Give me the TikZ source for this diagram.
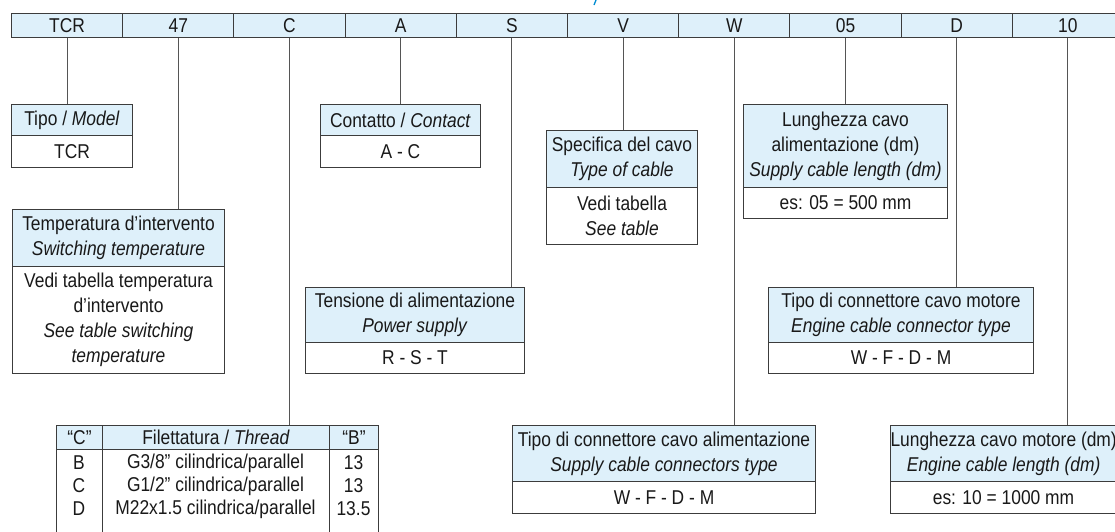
\documentclass[tikz,border=0pt]{standalone}
\usepackage{fontspec}
\setmainfont{Liberation Sans}[FakeStretch=0.87]
\definecolor{hdrblue}{RGB}{222,240,250}
\definecolor{boxline}{RGB}{60,60,60}
\definecolor{connline}{RGB}{85,85,85}
\definecolor{txt}{RGB}{25,25,25}
\definecolor{fragblue}{RGB}{0,140,210}
\begin{document}
\begin{tikzpicture}[x=1pt,y=-1pt,
  every node/.style={font=\fontsize{20}{25}\selectfont, text=txt},
  cellbox/.style={draw=boxline, fill=hdrblue, line width=1pt, inner sep=0pt, anchor=north west, minimum width=111.2pt, minimum height=24pt},
  hdrbox/.style={draw=boxline, fill=hdrblue, line width=1pt, inner sep=0pt, anchor=north west, align=center},
  bodybox/.style={draw=boxline, fill=white, line width=1pt, inner sep=0pt, anchor=north west, align=center},
  conn/.style={draw=connline, line width=1.1pt},
  tbltext/.style={inner sep=0pt, anchor=center}
]
\useasboundingbox (0,0) rectangle (1115,531);
\clip (0,0) rectangle (1115,531);

% fragment of cut-off title
\draw[fragblue, line width=1.3pt] (596,0) -- (594,5);

% top code bar
\node[cellbox] (c1) at (11,13) {TCR};
\node[cellbox] (c2) at (122.2,13) {47};
\node[cellbox] (c3) at (233.4,13) {C};
\node[cellbox] (c4) at (344.6,13) {A};
\node[cellbox] (c5) at (455.8,13) {S};
\node[cellbox] (c6) at (567,13) {V};
\node[cellbox] (c7) at (678.2,13) {W};
\node[cellbox] (c8) at (789.4,13) {05};
\node[cellbox] (c9) at (900.6,13) {D};
\node[cellbox] (c10) at (1011.8,13) {10};

% Tipo / Model
\node[hdrbox, minimum width=121pt, minimum height=31pt] (tipoH) at (11,104) {Tipo / \textit{Model}};
\node[bodybox, minimum width=121pt, minimum height=32pt] (tipoB) at (11,135) {TCR};

% Temperatura
\node[hdrbox, minimum width=212pt, minimum height=57pt] (tempH) at (12,209) {Temperatura d’intervento\\\textit{Switching temperature}};
\node[bodybox, minimum width=212pt, minimum height=107pt] (tempB) at (12,266) {Vedi tabella temperatura\\d’intervento\\\textit{See table switching}\\\textit{temperature}};

% Contatto
\node[hdrbox, minimum width=160pt, minimum height=31pt] (contH) at (320,104) {Contatto / \textit{Contact}};
\node[bodybox, minimum width=160pt, minimum height=32pt] (contB) at (320,135) {A - C};

% Specifica
\node[hdrbox, minimum width=151pt, minimum height=57pt] (specH) at (546,130) {Specifica del cavo\\\textit{Type of cable}};
\node[bodybox, minimum width=151pt, minimum height=57pt] (specB) at (546,187) {Vedi tabella\\\textit{See table}};

% Lunghezza cavo alimentazione
\node[hdrbox, minimum width=204pt, minimum height=83pt] (lungH) at (743,104) {Lunghezza cavo\\alimentazione (dm)\\\textit{Supply cable length (dm)}};
\node[bodybox, minimum width=204pt, minimum height=31pt] (lungB) at (743,187) {es: 05 = 500 mm};

% Tensione
\node[hdrbox, minimum width=219pt, minimum height=55pt] (tensH) at (305,287) {Tensione di alimentazione\\\textit{Power supply}};
\node[bodybox, minimum width=219pt, minimum height=31pt] (tensB) at (305,342) {R - S - T};

% Engine connector
\node[hdrbox, minimum width=265pt, minimum height=55pt] (engcH) at (768,287) {Tipo di connettore cavo motore\\\textit{Engine cable connector type}};
\node[bodybox, minimum width=265pt, minimum height=31pt] (engcB) at (768,342) {W - F - D - M};

% Supply connectors
\node[hdrbox, minimum width=303pt, minimum height=56pt] (supcH) at (512,425) {Tipo di connettore cavo alimentazione\\\textit{Supply cable connectors type}};
\node[bodybox, minimum width=303pt, minimum height=32pt] (supcB) at (512,481) {W - F - D - M};

% Engine length
\node[hdrbox, minimum width=226pt, minimum height=56pt] (englH) at (890,425) {Lunghezza cavo motore (dm)\\\textit{Engine cable length (dm)}};
\node[bodybox, minimum width=226pt, minimum height=32pt] (englB) at (890,481) {es: 10 = 1000 mm};

% Thread table
\node[hdrbox, minimum width=46pt, minimum height=24pt] (th1) at (56,425) {“C”};
\node[hdrbox, minimum width=227pt, minimum height=24pt] (th2) at (102,425) {Filettatura / \textit{Thread}};
\node[hdrbox, minimum width=49pt, minimum height=24pt] (th3) at (329,425) {“B”};
\node[bodybox, minimum width=46pt, minimum height=110pt] (tc1) at (56,449) {};
\node[bodybox, minimum width=227pt, minimum height=110pt] (tc2) at (102,449) {};
\node[bodybox, minimum width=49pt, minimum height=110pt] (tc3) at (329,449) {};
\node[tbltext] (r1a) at (79,463) {B};
\node[tbltext] (r1b) at (215.5,463) {G3/8” cilindrica/parallel};
\node[tbltext] (r1c) at (353.5,463) {13};
\node[tbltext] (r2a) at (79,486) {C};
\node[tbltext] (r2b) at (215.5,486) {G1/2” cilindrica/parallel};
\node[tbltext] (r2c) at (353.5,486) {13};
\node[tbltext] (r3a) at (79,509) {D};
\node[tbltext] (r3b) at (215.5,509) {M22x1.5 cilindrica/parallel};
\node[tbltext] (r3c) at (353.5,509) {13.5};

% connectors
\draw[conn] (c1.south) -- (c1.south |- tipoH.north);
\draw[conn] (c2.south) -- (c2.south |- tempH.north);
\draw[conn] (c3.south) -- (c3.south |- th2.north);
\draw[conn] (c4.south) -- (c4.south |- contH.north);
\draw[conn] (c5.south) -- (c5.south |- tensH.north);
\draw[conn] (c6.south) -- (c6.south |- specH.north);
\draw[conn] (c7.south) -- (c7.south |- supcH.north);
\draw[conn] (c8.south) -- (c8.south |- lungH.north);
\draw[conn] (c9.south) -- (c9.south |- engcH.north);
\draw[conn] (c10.south) -- (c10.south |- englH.north);
\end{tikzpicture}
\end{document}
